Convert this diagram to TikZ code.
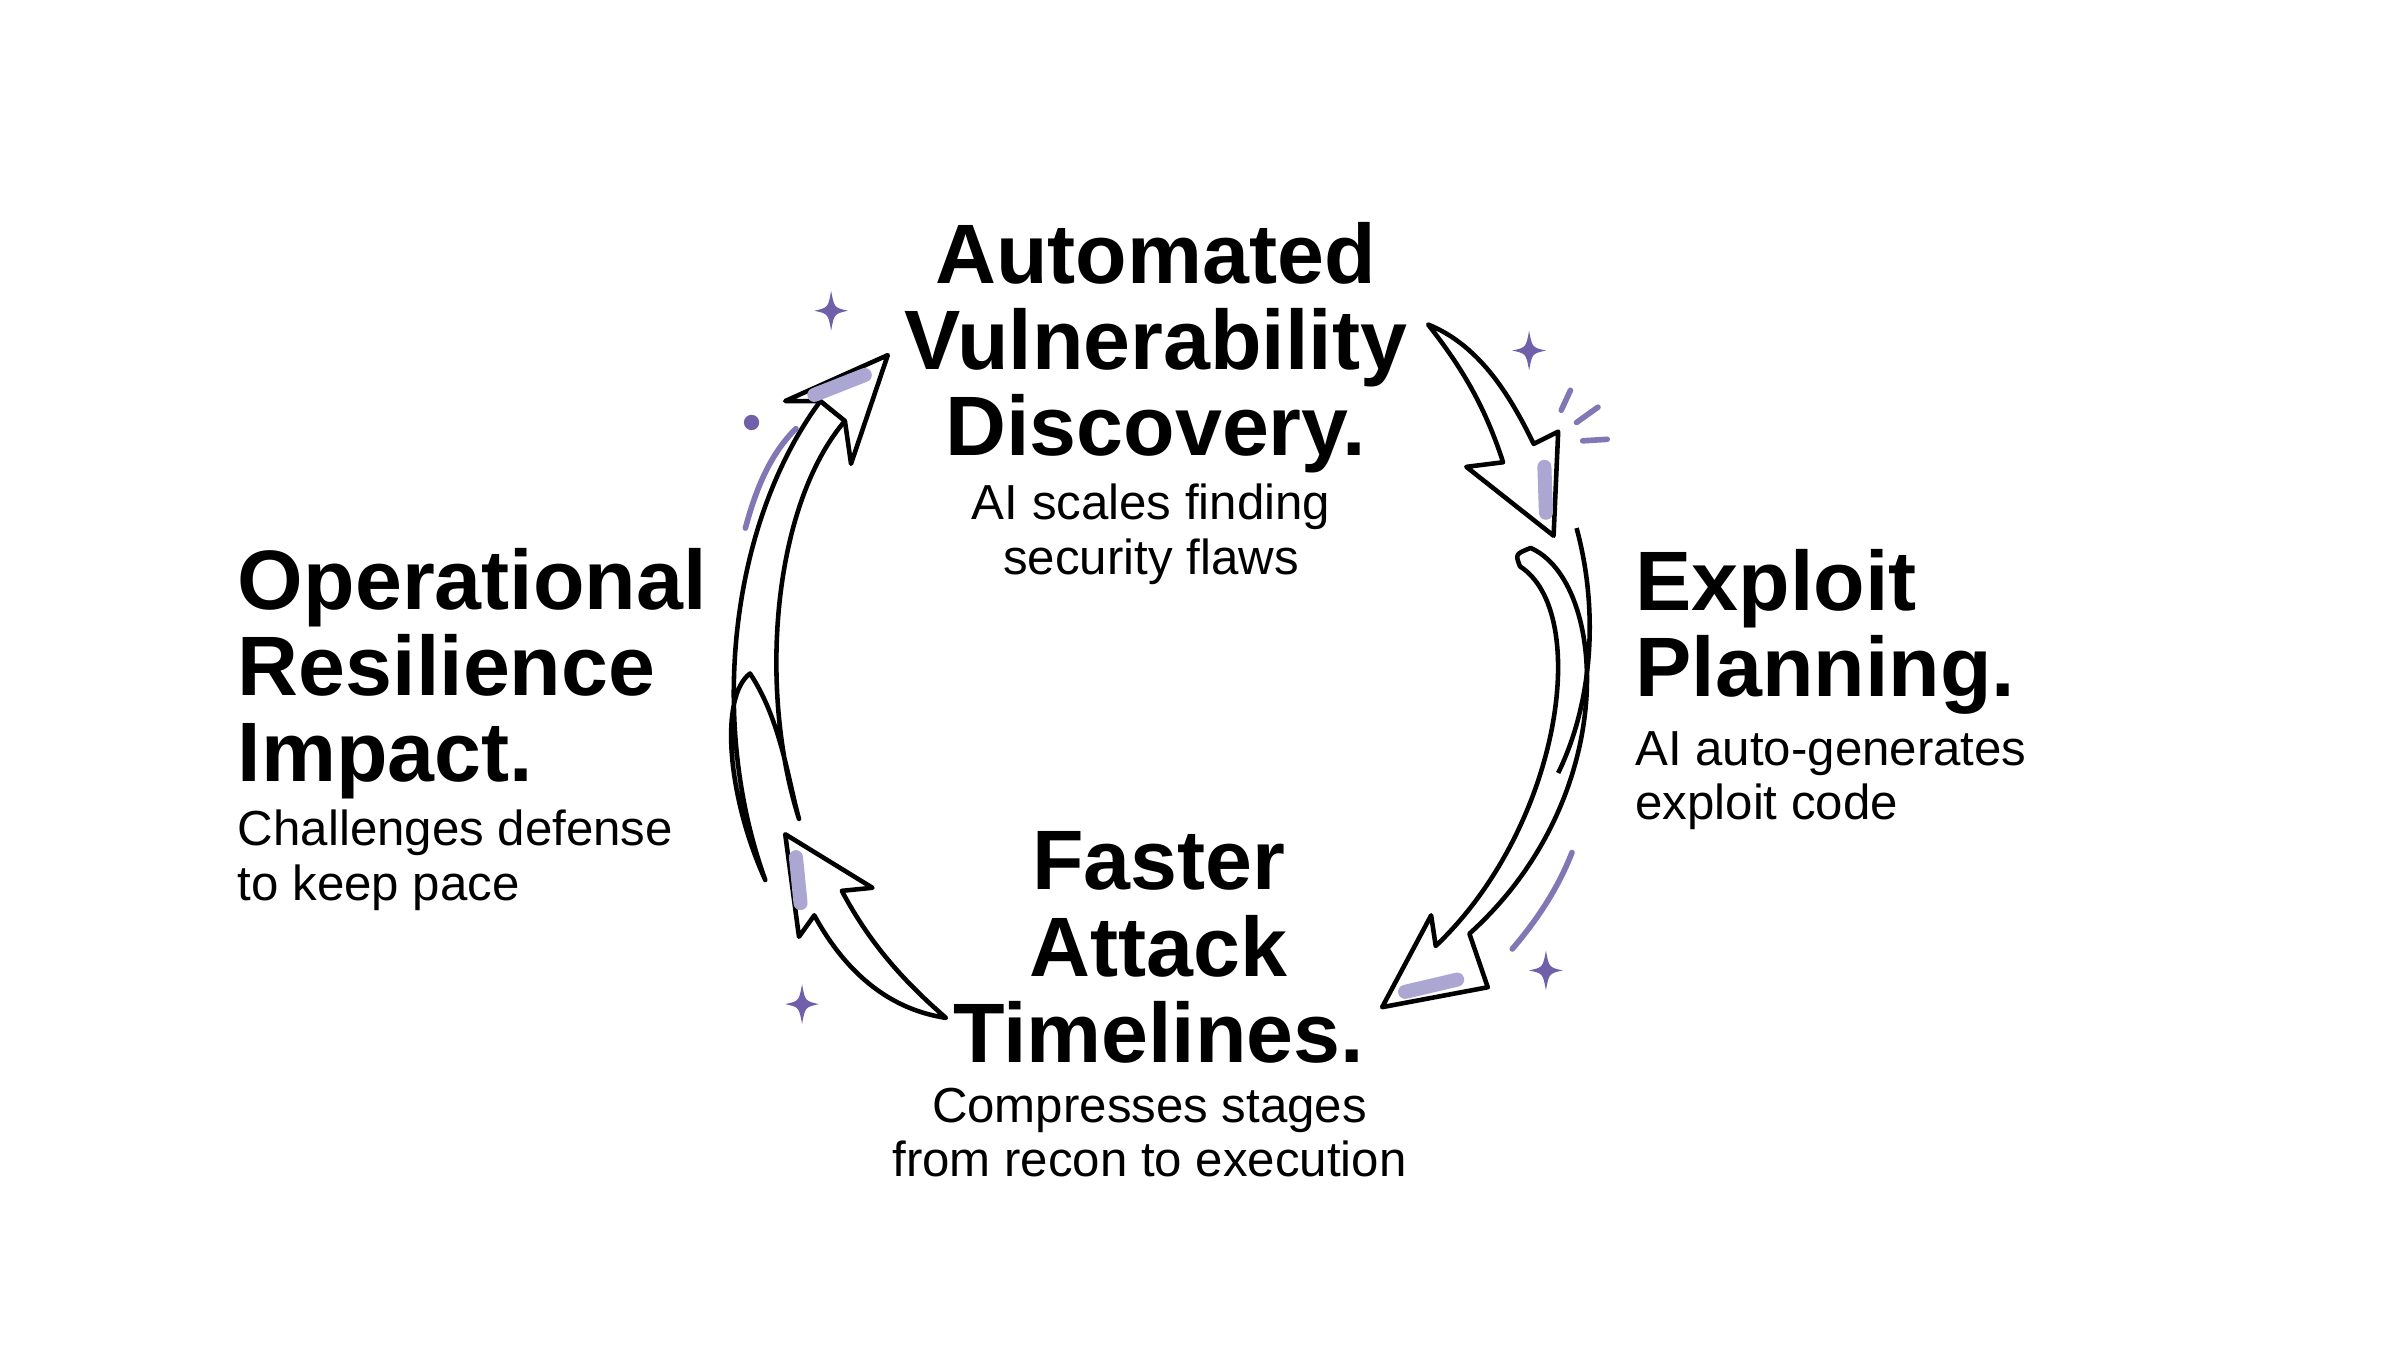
\documentclass[tikz,border=0pt]{standalone}
\usepackage{fontspec}
\setmainfont{Liberation Sans}
\begin{document}
\begin{tikzpicture}[x=0.01531cm,y=-0.01531cm,
  ttl/.style={font=\fontsize{24}{24.5}\selectfont\bfseries,align=center,inner sep=0},
  sub/.style={font=\fontsize{14}{15.5}\selectfont,align=center,inner sep=0},
  arr/.style={draw=black,line width=1.3pt,fill=white,line join=round},
  hl/.style={draw=hlc,line width=4pt,line cap=round},
  pur/.style={draw=purc,line width=1.6pt,line cap=round}]
\useasboundingbox (0,0) rectangle (1568,882);
\definecolor{star}{RGB}{112,96,170}
\definecolor{hlc}{RGB}{172,166,210}
\definecolor{purc}{RGB}{130,118,180}
\newcommand{\spark}[2]{\fill[star] (#1,#2-13) .. controls (#1+2,#2-2) .. (#1+11,#2) .. controls (#1+2,#2+2) .. (#1,#2+13) .. controls (#1-2,#2+2) .. (#1-11,#2) .. controls (#1-2,#2-2) .. cycle;}
% texts
\node[ttl] (t1) at (755,227) {Automated\\Vulnerability\\Discovery.};
\node[sub] (s1) at (752,349) {AI scales finding\\security flaws};
\node[ttl,align=left,anchor=west] (t2) at (1068,413) {Exploit\\Planning.};
\node[sub,align=left,anchor=west] (s2) at (1068,510) {AI auto-generates\\exploit code};
\node[ttl] (t3) at (757,619) {Faster\\Attack\\Timelines.};
\node[sub] (s3) at (751,740) {Compresses stages\\from recon to execution};
\node[ttl,align=left,anchor=west] (t4) at (155,440) {Operational\\Resilience\\Impact.};
\node[sub,align=left,anchor=west] (s4) at (155,562) {Challenges defense\\to keep pace};
% left arrow (up)
\draw[arr] (536,262) .. controls (478,340) and (462,470) .. (500,575)
  .. controls (475,520) and (470,455) .. (490,440) .. controls (510,470) and (515,510) .. (522,535)
  .. controls (495,450) and (505,330) .. (552,275) -- cycle;
\draw[arr] (580,232) -- (513,262) -- (536,262) -- (552,275) -- (556,303) -- cycle;
\draw[hl] (532,258) -- (565,245);
% bottom-left arrow
\draw[arr] (513,545) -- (570,580) -- (550,582) .. controls (570,620) and (595,645) .. (618,665)
  .. controls (585,660) and (555,640) .. (532,598) -- (522,612) -- cycle;
\draw[hl] (520,560) -- (523,590);
% top-right arrow
\draw[arr] (933,212) .. controls (965,225) and (985,255) .. (1002,290) -- (1018,282) -- (1015,350)
  -- (958,305) -- (982,302) .. controls (970,265) and (955,240) .. cycle;
\draw[hl] (1009,305) -- (1010,335);
% right-lower arrow
\draw[arr] (1000,358) .. controls (1050,380) and (1060,520) .. (960,610) -- (972,645) -- (903,658)
  -- (935,598) -- (938,618) .. controls (1020,540) and (1040,400) .. (993,370) .. controls (990,362) .. cycle;
\draw[arr,fill=none] (1030,345) .. controls (1045,400) and (1040,460) .. (1018,505);
\draw[hl] (918,648) -- (952,640);
% decorations
\spark{543}{203}\spark{999}{229}\spark{1010}{634}\spark{524}{656}
\fill[star] (491,276) circle (5);
\draw[pur] (487,345) .. controls (495,315) and (505,295) .. (520,280);
\draw[pur] (988,620) .. controls (1005,600) and (1018,580) .. (1027,557);
\draw[pur] (1020,268) -- (1026,255);
\draw[pur] (1030,276) -- (1044,266);
\draw[pur] (1034,288) -- (1050,287);
\end{tikzpicture}
\end{document}
